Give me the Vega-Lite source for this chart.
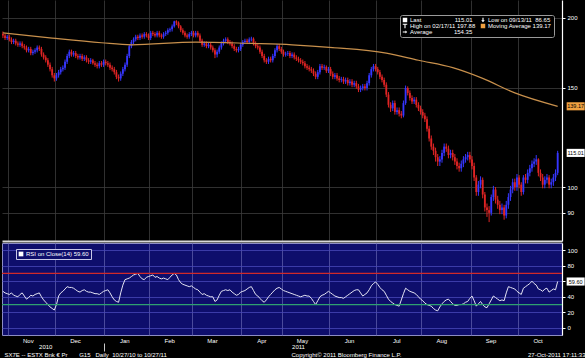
{
"$schema":"https://vega.github.io/schema/vega-lite/v6.json",
"background":"#000000",
"padding":0,
"spacing":1,
"config":{"font":"Liberation Sans","axis":{"labelFont":"Liberation Sans","titleFont":"Liberation Sans"},"legend":{"labelFont":"Liberation Sans"},"text":{"font":"Liberation Sans"}},
"resolve":{"scale":{"color":"independent","shape":"independent"},"legend":{"color":"independent","shape":"independent"}},
"datasets":{
"p":[
{"d":"2010-10-27","o":187,"h":189,"l":184,"c":186,"r":47},
{"d":"2010-10-28","o":186,"h":187.5,"l":182.5,"c":184,"r":45},
{"d":"2010-10-29","o":184,"h":186.5,"l":182.5,"c":185,"r":44},
{"d":"2010-11-01","o":185,"h":186.5,"l":181.5,"c":183,"r":43},
{"d":"2010-11-02","o":183,"h":184.5,"l":179.5,"c":181,"r":45},
{"d":"2010-11-03","o":181,"h":183.5,"l":179.5,"c":182,"r":42},
{"d":"2010-11-04","o":182,"h":183.5,"l":178.5,"c":180,"r":41},
{"d":"2010-11-05","o":180,"h":181.5,"l":177.5,"c":179,"r":40},
{"d":"2010-11-08","o":179,"h":181.5,"l":177.5,"c":180,"r":43},
{"d":"2010-11-09","o":180,"h":181.5,"l":176.5,"c":178,"r":45},
{"d":"2010-11-10","o":178,"h":179.5,"l":175.5,"c":177,"r":41},
{"d":"2010-11-11","o":177,"h":178.5,"l":173.5,"c":175,"r":37},
{"d":"2010-11-12","o":175,"h":177.5,"l":173.5,"c":176,"r":39},
{"d":"2010-11-15","o":176,"h":177.5,"l":171.5,"c":173,"r":42},
{"d":"2010-11-16","o":173,"h":175.5,"l":171.5,"c":174,"r":41},
{"d":"2010-11-17","o":174,"h":176.5,"l":172.5,"c":175,"r":43},
{"d":"2010-11-18","o":175,"h":178.5,"l":173.5,"c":177,"r":44},
{"d":"2010-11-19","o":177,"h":178.5,"l":174.5,"c":176,"r":45},
{"d":"2010-11-22","o":176,"h":177.5,"l":170.5,"c":172,"r":40},
{"d":"2010-11-23","o":172,"h":173.5,"l":168.5,"c":170,"r":36},
{"d":"2010-11-24","o":170,"h":171.5,"l":166.5,"c":168,"r":33},
{"d":"2010-11-25","o":168,"h":169.5,"l":163.5,"c":165,"r":30},
{"d":"2010-11-26","o":165,"h":166.5,"l":160.5,"c":162,"r":27},
{"d":"2010-11-29","o":162,"h":163.5,"l":156.5,"c":158,"r":25},
{"d":"2010-11-30","o":158,"h":159.5,"l":154,"c":156,"r":23},
{"d":"2010-12-01","o":156,"h":159.5,"l":154.5,"c":158,"r":30},
{"d":"2010-12-02","o":158,"h":161.5,"l":156.5,"c":160,"r":41},
{"d":"2010-12-03","o":160,"h":163.5,"l":158.5,"c":162,"r":45},
{"d":"2010-12-06","o":162,"h":164.5,"l":160.5,"c":163,"r":47},
{"d":"2010-12-07","o":163,"h":168.5,"l":161.5,"c":167,"r":50},
{"d":"2010-12-08","o":167,"h":172.5,"l":165.5,"c":171,"r":53},
{"d":"2010-12-09","o":171,"h":175.5,"l":169.5,"c":174,"r":52},
{"d":"2010-12-10","o":174,"h":175.5,"l":170.5,"c":172,"r":52},
{"d":"2010-12-13","o":172,"h":174.5,"l":170.5,"c":173,"r":51},
{"d":"2010-12-14","o":173,"h":174.5,"l":169.5,"c":171,"r":49},
{"d":"2010-12-15","o":171,"h":172.5,"l":168.5,"c":170,"r":47},
{"d":"2010-12-16","o":170,"h":172.5,"l":168.5,"c":171,"r":46},
{"d":"2010-12-17","o":171,"h":172.5,"l":167.5,"c":169,"r":48},
{"d":"2010-12-20","o":169,"h":171.5,"l":167.5,"c":170,"r":49},
{"d":"2010-12-21","o":170,"h":171.5,"l":166.5,"c":168,"r":47},
{"d":"2010-12-22","o":168,"h":169.5,"l":165.5,"c":167,"r":46},
{"d":"2010-12-23","o":167,"h":169.5,"l":165.5,"c":168,"r":46},
{"d":"2010-12-24","o":168,"h":169,"l":165,"c":166,"r":45},
{"d":"2010-12-27","o":166,"h":167.5,"l":163.5,"c":165,"r":44},
{"d":"2010-12-28","o":165,"h":166.5,"l":162.5,"c":164,"r":44},
{"d":"2010-12-29","o":164,"h":167.5,"l":162.5,"c":166,"r":43},
{"d":"2010-12-30","o":166,"h":167.5,"l":163.5,"c":165,"r":45},
{"d":"2010-12-31","o":165,"h":168.5,"l":163.5,"c":167,"r":47},
{"d":"2011-01-03","o":167,"h":168.5,"l":164.5,"c":166,"r":48},
{"d":"2011-01-04","o":166,"h":167.5,"l":163.5,"c":165,"r":49},
{"d":"2011-01-05","o":165,"h":166.5,"l":161.5,"c":163,"r":45},
{"d":"2011-01-06","o":163,"h":164.5,"l":160.5,"c":162,"r":40},
{"d":"2011-01-07","o":162,"h":163.5,"l":158.5,"c":160,"r":36},
{"d":"2011-01-10","o":160,"h":161.5,"l":155.5,"c":157,"r":34},
{"d":"2011-01-11","o":157,"h":158.5,"l":154,"c":156,"r":33},
{"d":"2011-01-12","o":156,"h":160.5,"l":154.5,"c":159,"r":45},
{"d":"2011-01-13","o":159,"h":163.5,"l":157.5,"c":162,"r":55},
{"d":"2011-01-14","o":162,"h":166.5,"l":160.5,"c":165,"r":62},
{"d":"2011-01-17","o":165,"h":172.5,"l":163.5,"c":171,"r":63},
{"d":"2011-01-18","o":171,"h":179.5,"l":169.5,"c":178,"r":64},
{"d":"2011-01-19","o":178,"h":182.5,"l":176.5,"c":181,"r":66},
{"d":"2011-01-20","o":181,"h":184.5,"l":179.5,"c":183,"r":68},
{"d":"2011-01-21","o":183,"h":186.5,"l":181.5,"c":185,"r":69},
{"d":"2011-01-24","o":185,"h":186.5,"l":182.5,"c":184,"r":70},
{"d":"2011-01-25","o":184,"h":187.5,"l":182.5,"c":186,"r":66},
{"d":"2011-01-26","o":186,"h":187.5,"l":183.5,"c":185,"r":63},
{"d":"2011-01-27","o":185,"h":188.5,"l":183.5,"c":187,"r":62},
{"d":"2011-01-28","o":187,"h":188.5,"l":184.5,"c":186,"r":65},
{"d":"2011-01-31","o":186,"h":187.5,"l":182.5,"c":184,"r":66},
{"d":"2011-02-01","o":184,"h":189.5,"l":182.5,"c":188,"r":67},
{"d":"2011-02-02","o":188,"h":189.5,"l":185.5,"c":187,"r":68},
{"d":"2011-02-03","o":187,"h":188.5,"l":184.5,"c":186,"r":65},
{"d":"2011-02-04","o":186,"h":189.5,"l":184.5,"c":188,"r":66},
{"d":"2011-02-07","o":188,"h":189.5,"l":184.5,"c":186,"r":64},
{"d":"2011-02-08","o":186,"h":187.5,"l":183.5,"c":185,"r":63},
{"d":"2011-02-09","o":185,"h":188.5,"l":183.5,"c":187,"r":64},
{"d":"2011-02-10","o":187,"h":189.5,"l":185.5,"c":188,"r":63},
{"d":"2011-02-11","o":188,"h":191.5,"l":186.5,"c":190,"r":62},
{"d":"2011-02-14","o":190,"h":192,"l":188.5,"c":190.8,"r":65},
{"d":"2011-02-15","o":190.8,"h":194.5,"l":189,"c":193,"r":68},
{"d":"2011-02-16","o":193,"h":197.5,"l":192,"c":197,"r":70},
{"d":"2011-02-17","o":197,"h":197.88,"l":194,"c":196,"r":68},
{"d":"2011-02-18","o":196,"h":197,"l":191.5,"c":193,"r":62},
{"d":"2011-02-21","o":193,"h":194,"l":188.5,"c":190,"r":58},
{"d":"2011-02-22","o":190,"h":191.5,"l":186.5,"c":188,"r":56},
{"d":"2011-02-23","o":188,"h":189.5,"l":184.5,"c":186,"r":55},
{"d":"2011-02-24","o":186,"h":187.5,"l":183.5,"c":185,"r":54},
{"d":"2011-02-25","o":185,"h":188.5,"l":183.5,"c":187,"r":53},
{"d":"2011-02-28","o":187,"h":189.5,"l":185.5,"c":188,"r":54},
{"d":"2011-03-01","o":188,"h":189.5,"l":184.5,"c":186,"r":52},
{"d":"2011-03-02","o":186,"h":189.5,"l":184.5,"c":188,"r":50},
{"d":"2011-03-03","o":188,"h":189.5,"l":184.5,"c":186,"r":49},
{"d":"2011-03-04","o":186,"h":187.5,"l":180.5,"c":182,"r":46},
{"d":"2011-03-07","o":182,"h":183.5,"l":177.5,"c":179,"r":43},
{"d":"2011-03-08","o":179,"h":181.5,"l":177.5,"c":180,"r":44},
{"d":"2011-03-09","o":180,"h":181.5,"l":176.5,"c":178,"r":42},
{"d":"2011-03-10","o":178,"h":180.5,"l":176.5,"c":179,"r":41},
{"d":"2011-03-11","o":179,"h":180.5,"l":175.5,"c":177,"r":40},
{"d":"2011-03-14","o":177,"h":178.5,"l":173.5,"c":175,"r":40},
{"d":"2011-03-15","o":175,"h":176.5,"l":169.5,"c":172,"r":34},
{"d":"2011-03-16","o":172,"h":175.5,"l":170,"c":174,"r":36},
{"d":"2011-03-17","o":174,"h":178.5,"l":172.5,"c":177,"r":42},
{"d":"2011-03-18","o":177,"h":181.5,"l":175.5,"c":180,"r":47},
{"d":"2011-03-21","o":180,"h":183.5,"l":178.5,"c":182,"r":48},
{"d":"2011-03-22","o":182,"h":184.5,"l":180.5,"c":183,"r":49},
{"d":"2011-03-23","o":183,"h":184.5,"l":179.5,"c":181,"r":48},
{"d":"2011-03-24","o":181,"h":182.5,"l":178.5,"c":180,"r":49},
{"d":"2011-03-25","o":180,"h":181.5,"l":176.5,"c":178,"r":46},
{"d":"2011-03-28","o":178,"h":179.5,"l":174.5,"c":176,"r":44},
{"d":"2011-03-29","o":176,"h":177.5,"l":173.5,"c":175,"r":42},
{"d":"2011-03-30","o":175,"h":177.5,"l":173.5,"c":176,"r":43},
{"d":"2011-03-31","o":176,"h":180.5,"l":174.5,"c":179,"r":46},
{"d":"2011-04-01","o":179,"h":182.5,"l":177.5,"c":181,"r":47},
{"d":"2011-04-04","o":181,"h":183.5,"l":179.5,"c":182,"r":48},
{"d":"2011-04-05","o":182,"h":183.5,"l":179.5,"c":181,"r":50},
{"d":"2011-04-06","o":181,"h":184.5,"l":179.5,"c":183,"r":52},
{"d":"2011-04-07","o":183,"h":185,"l":181.5,"c":183.5,"r":53},
{"d":"2011-04-08","o":183.5,"h":184.5,"l":178.5,"c":180,"r":48},
{"d":"2011-04-11","o":180,"h":181.5,"l":176.5,"c":178,"r":43},
{"d":"2011-04-12","o":178,"h":179.5,"l":175.5,"c":177,"r":41},
{"d":"2011-04-13","o":177,"h":178.5,"l":172.5,"c":174,"r":38},
{"d":"2011-04-14","o":174,"h":175.5,"l":169.5,"c":171,"r":35},
{"d":"2011-04-15","o":171,"h":172.5,"l":166.5,"c":168,"r":33},
{"d":"2011-04-18","o":168,"h":169.5,"l":165.5,"c":167,"r":36},
{"d":"2011-04-19","o":167,"h":170.5,"l":165.5,"c":169,"r":40},
{"d":"2011-04-20","o":169,"h":170.5,"l":166.5,"c":168,"r":43},
{"d":"2011-04-21","o":168,"h":172.5,"l":166.5,"c":171,"r":46},
{"d":"2011-04-26","o":171,"h":176.5,"l":169.5,"c":175,"r":49},
{"d":"2011-04-27","o":175,"h":179.5,"l":173.5,"c":178,"r":51},
{"d":"2011-04-28","o":178,"h":179.5,"l":174.5,"c":176,"r":52},
{"d":"2011-04-29","o":176,"h":177.5,"l":172.5,"c":174,"r":50},
{"d":"2011-05-02","o":174,"h":175.5,"l":170.5,"c":172,"r":48},
{"d":"2011-05-03","o":172,"h":174,"l":170.5,"c":172.5,"r":47},
{"d":"2011-05-04","o":172.5,"h":174.5,"l":171,"c":173,"r":46},
{"d":"2011-05-05","o":173,"h":174.5,"l":169.5,"c":171,"r":45},
{"d":"2011-05-06","o":171,"h":173.5,"l":169.5,"c":172,"r":44},
{"d":"2011-05-09","o":172,"h":173.5,"l":168.5,"c":170,"r":43},
{"d":"2011-05-10","o":170,"h":171.5,"l":167.5,"c":169,"r":42},
{"d":"2011-05-11","o":169,"h":170.5,"l":166.5,"c":168,"r":41},
{"d":"2011-05-12","o":168,"h":169.5,"l":165.5,"c":167,"r":40},
{"d":"2011-05-13","o":167,"h":168.5,"l":164.5,"c":166,"r":41},
{"d":"2011-05-16","o":166,"h":167.5,"l":162.5,"c":164,"r":42},
{"d":"2011-05-17","o":164,"h":165.5,"l":161.5,"c":163,"r":41},
{"d":"2011-05-18","o":163,"h":164.5,"l":160.5,"c":162,"r":41},
{"d":"2011-05-19","o":162,"h":163.5,"l":159.5,"c":161,"r":38},
{"d":"2011-05-20","o":161,"h":162.5,"l":157.5,"c":159,"r":34},
{"d":"2011-05-23","o":159,"h":160.5,"l":155.5,"c":157,"r":30},
{"d":"2011-05-24","o":157,"h":161.5,"l":155.5,"c":160,"r":35},
{"d":"2011-05-25","o":160,"h":165.5,"l":158.5,"c":164,"r":40},
{"d":"2011-05-26","o":164,"h":165.5,"l":161.5,"c":163,"r":42},
{"d":"2011-05-27","o":163,"h":165,"l":161.5,"c":163.5,"r":43},
{"d":"2011-05-30","o":163.5,"h":164.5,"l":159.5,"c":161,"r":45},
{"d":"2011-05-31","o":161,"h":163.5,"l":159.5,"c":162,"r":47},
{"d":"2011-06-01","o":162,"h":163.5,"l":157.5,"c":159,"r":45},
{"d":"2011-06-02","o":159,"h":160.5,"l":155.5,"c":157,"r":43},
{"d":"2011-06-03","o":157,"h":159.5,"l":155.5,"c":158,"r":41},
{"d":"2011-06-06","o":158,"h":159.5,"l":154.5,"c":156,"r":40},
{"d":"2011-06-07","o":156,"h":157.5,"l":153.5,"c":155,"r":39},
{"d":"2011-06-08","o":155,"h":157,"l":153.5,"c":155.5,"r":39},
{"d":"2011-06-09","o":155.5,"h":157,"l":152.5,"c":154,"r":38},
{"d":"2011-06-10","o":154,"h":156.5,"l":152.5,"c":155,"r":40},
{"d":"2011-06-13","o":155,"h":156.5,"l":151.5,"c":153,"r":42},
{"d":"2011-06-14","o":153,"h":155.5,"l":151.5,"c":154,"r":44},
{"d":"2011-06-15","o":154,"h":155.5,"l":150.5,"c":152,"r":46},
{"d":"2011-06-16","o":152,"h":154.5,"l":150.5,"c":153,"r":48},
{"d":"2011-06-17","o":153,"h":154.5,"l":149.5,"c":151,"r":49},
{"d":"2011-06-20","o":151,"h":152.5,"l":147.5,"c":149,"r":49},
{"d":"2011-06-21","o":149,"h":151.5,"l":147.5,"c":150,"r":45},
{"d":"2011-06-22","o":150,"h":152.5,"l":148.5,"c":151,"r":41},
{"d":"2011-06-23","o":151,"h":152.5,"l":148.5,"c":150,"r":43},
{"d":"2011-06-24","o":150,"h":154.5,"l":148.5,"c":153,"r":45},
{"d":"2011-06-27","o":153,"h":159.5,"l":151.5,"c":158,"r":49},
{"d":"2011-06-28","o":158,"h":163.5,"l":156.5,"c":162,"r":54},
{"d":"2011-06-29","o":162,"h":165.5,"l":160.5,"c":164,"r":57},
{"d":"2011-06-30","o":164,"h":165.5,"l":160.5,"c":162,"r":59},
{"d":"2011-07-01","o":162,"h":163.5,"l":158.5,"c":160,"r":56},
{"d":"2011-07-04","o":160,"h":161.5,"l":155.5,"c":157,"r":52},
{"d":"2011-07-05","o":157,"h":158.5,"l":153.5,"c":155,"r":49},
{"d":"2011-07-06","o":155,"h":156.5,"l":150.5,"c":152,"r":47},
{"d":"2011-07-07","o":152,"h":153.5,"l":144.5,"c":146,"r":42},
{"d":"2011-07-08","o":146,"h":147.5,"l":138.5,"c":140,"r":37},
{"d":"2011-07-11","o":140,"h":141.5,"l":136,"c":138,"r":34},
{"d":"2011-07-12","o":138,"h":142.5,"l":136.5,"c":141,"r":32},
{"d":"2011-07-13","o":141,"h":142.5,"l":134.5,"c":136,"r":30},
{"d":"2011-07-14","o":136,"h":138.5,"l":134.5,"c":137,"r":29},
{"d":"2011-07-15","o":137,"h":138.5,"l":133.5,"c":135,"r":28},
{"d":"2011-07-18","o":135,"h":136.5,"l":132.5,"c":134,"r":36},
{"d":"2011-07-19","o":134,"h":142.5,"l":133,"c":141,"r":44},
{"d":"2011-07-20","o":141,"h":151.5,"l":140,"c":150,"r":51},
{"d":"2011-07-21","o":150,"h":151,"l":145.5,"c":147,"r":49},
{"d":"2011-07-22","o":147,"h":148.5,"l":142.5,"c":144,"r":47},
{"d":"2011-07-25","o":144,"h":145.5,"l":140.5,"c":142,"r":46},
{"d":"2011-07-26","o":142,"h":144.5,"l":140.5,"c":143,"r":45},
{"d":"2011-07-27","o":143,"h":144.5,"l":138.5,"c":140,"r":43},
{"d":"2011-07-28","o":140,"h":141.5,"l":136.5,"c":138,"r":40},
{"d":"2011-07-29","o":138,"h":139.5,"l":134.5,"c":136,"r":37},
{"d":"2011-08-01","o":136,"h":137.5,"l":132.5,"c":134,"r":35},
{"d":"2011-08-02","o":134,"h":135.5,"l":130.5,"c":132,"r":32},
{"d":"2011-08-03","o":132,"h":133.5,"l":125.5,"c":127,"r":30},
{"d":"2011-08-04","o":127,"h":128.5,"l":120.5,"c":122,"r":29},
{"d":"2011-08-05","o":122,"h":123.5,"l":116.5,"c":118,"r":28},
{"d":"2011-08-08","o":118,"h":119.5,"l":114,"c":116,"r":25},
{"d":"2011-08-09","o":116,"h":117.5,"l":111,"c":113,"r":23},
{"d":"2011-08-10","o":113,"h":114.5,"l":109,"c":111,"r":22},
{"d":"2011-08-11","o":111,"h":113.5,"l":109,"c":112,"r":27},
{"d":"2011-08-12","o":112,"h":116.5,"l":110.5,"c":115,"r":31},
{"d":"2011-08-15","o":115,"h":119.5,"l":113.5,"c":118,"r":34},
{"d":"2011-08-16","o":118,"h":119.5,"l":115.5,"c":117,"r":36},
{"d":"2011-08-17","o":117,"h":118.5,"l":112.5,"c":114,"r":37},
{"d":"2011-08-18","o":114,"h":116.5,"l":112.5,"c":115,"r":34},
{"d":"2011-08-19","o":115,"h":116.5,"l":111.5,"c":113,"r":31},
{"d":"2011-08-22","o":113,"h":114.5,"l":109.5,"c":111,"r":29},
{"d":"2011-08-23","o":111,"h":112.5,"l":107.5,"c":109,"r":29},
{"d":"2011-08-24","o":109,"h":110.5,"l":106.5,"c":108,"r":30},
{"d":"2011-08-25","o":108,"h":111.5,"l":106.5,"c":110,"r":30},
{"d":"2011-08-26","o":110,"h":113.5,"l":108.5,"c":112,"r":31},
{"d":"2011-08-29","o":112,"h":114.5,"l":110.5,"c":113,"r":33},
{"d":"2011-08-30","o":113,"h":115.5,"l":111.5,"c":114,"r":34},
{"d":"2011-08-31","o":114,"h":115.5,"l":110.5,"c":112,"r":38},
{"d":"2011-09-01","o":112,"h":113.5,"l":107.5,"c":109,"r":41},
{"d":"2011-09-02","o":109,"h":110.5,"l":102.5,"c":104,"r":35},
{"d":"2011-09-05","o":104,"h":105,"l":96.5,"c":98,"r":28},
{"d":"2011-09-06","o":98,"h":102.5,"l":96.5,"c":101,"r":31},
{"d":"2011-09-07","o":101,"h":104.5,"l":99.5,"c":103,"r":34},
{"d":"2011-09-08","o":103,"h":104,"l":95.5,"c":97,"r":30},
{"d":"2011-09-09","o":97,"h":98,"l":90.5,"c":92,"r":27},
{"d":"2011-09-12","o":92,"h":93.5,"l":88.5,"c":91,"r":26},
{"d":"2011-09-13","o":91,"h":92.5,"l":86.65,"c":90,"r":31},
{"d":"2011-09-14","o":90,"h":97,"l":89,"c":96,"r":36},
{"d":"2011-09-15","o":96,"h":100.5,"l":94.5,"c":99,"r":41},
{"d":"2011-09-16","o":99,"h":100,"l":93.5,"c":95,"r":39},
{"d":"2011-09-19","o":95,"h":96.5,"l":91.5,"c":93,"r":37},
{"d":"2011-09-20","o":93,"h":94.5,"l":89.5,"c":91,"r":35},
{"d":"2011-09-21","o":91,"h":93.5,"l":89.5,"c":92,"r":36},
{"d":"2011-09-22","o":92,"h":93,"l":87.5,"c":89,"r":35},
{"d":"2011-09-23","o":89,"h":94.5,"l":88,"c":93,"r":45},
{"d":"2011-09-26","o":93,"h":97.5,"l":91.5,"c":96,"r":53},
{"d":"2011-09-27","o":96,"h":100.5,"l":94.5,"c":99,"r":52},
{"d":"2011-09-28","o":99,"h":103.5,"l":97.5,"c":102,"r":51},
{"d":"2011-09-29","o":102,"h":103.5,"l":98.5,"c":100,"r":50},
{"d":"2011-09-30","o":100,"h":105.5,"l":98.5,"c":104,"r":47},
{"d":"2011-10-03","o":104,"h":105,"l":99.5,"c":101,"r":45},
{"d":"2011-10-04","o":101,"h":102,"l":96.5,"c":98,"r":43},
{"d":"2011-10-05","o":98,"h":105,"l":97,"c":104,"r":51},
{"d":"2011-10-06","o":104,"h":105.5,"l":101.5,"c":103,"r":53},
{"d":"2011-10-07","o":103,"h":107.5,"l":101.5,"c":106,"r":55},
{"d":"2011-10-10","o":106,"h":109.5,"l":104.5,"c":108,"r":57},
{"d":"2011-10-11","o":108,"h":111.5,"l":106.5,"c":110,"r":60},
{"d":"2011-10-12","o":110,"h":112.5,"l":108.5,"c":111,"r":57},
{"d":"2011-10-13","o":111,"h":114,"l":109.5,"c":112,"r":55},
{"d":"2011-10-14","o":112,"h":112.5,"l":104.5,"c":106,"r":50},
{"d":"2011-10-17","o":106,"h":107.5,"l":102.5,"c":104,"r":49},
{"d":"2011-10-18","o":104,"h":105.5,"l":99.5,"c":101,"r":47},
{"d":"2011-10-19","o":101,"h":104.5,"l":99.5,"c":103,"r":50},
{"d":"2011-10-20","o":103,"h":105.5,"l":101.5,"c":104,"r":51},
{"d":"2011-10-21","o":104,"h":105,"l":99.5,"c":101,"r":46},
{"d":"2011-10-24","o":101,"h":103.5,"l":99.5,"c":102,"r":48},
{"d":"2011-10-25","o":102,"h":105.5,"l":100.5,"c":104,"r":50},
{"d":"2011-10-26","o":104,"h":107.5,"l":102.5,"c":106,"r":49},
{"d":"2011-10-27","o":106,"h":116,"l":105,"c":115.01,"r":59.6}
],
"ma":[
{"d":"2010-10-27","m":188},{"d":"2010-11-29","m":184},{"d":"2010-12-30","m":180.5},{"d":"2011-01-19","m":179},
{"d":"2011-03-02","m":181},{"d":"2011-04-07","m":180},{"d":"2011-05-06","m":179},{"d":"2011-06-02","m":177},
{"d":"2011-07-07","m":173},{"d":"2011-07-28","m":168},{"d":"2011-08-19","m":163},{"d":"2011-09-08","m":156},
{"d":"2011-09-29","m":147},{"d":"2011-10-27","m":139.17}
],
"lab":[{"d":"2011-10-27","v":139.17,"t":"139.17","k":"ma"},{"d":"2011-10-27","v":115.01,"t":"115.01","k":"last"}],
"lab2":[{"d":"2011-10-27","v":59.6,"t":"59.60"}],
"rl":[{"v":70,"k":"hi"},{"v":30,"k":"lo"}],
"leg":[
{"k":"Last\u00a0\u00a0\u00a0\u00a0\u00a0\u00a0\u00a0\u00a0\u00a0\u00a0\u00a0\u00a0\u00a0\u00a0\u00a0\u00a0\u00a0\u00a0\u00a0\u00a0115.01"},
{"k":"Low on 09/13/11\u00a0\u00a086.65"},
{"k":"High on 02/17/11\u00a0197.88"},
{"k":"Moving Average\u00a0139.17"},
{"k":"Average\u00a0\u00a0\u00a0\u00a0\u00a0\u00a0\u00a0\u00a0\u00a0\u00a0\u00a0\u00a0\u00a0154.35"}
]
},
"vconcat":[
{
"width":560,"height":241,
"view":{"fill":"#000000","stroke":null},
"layer":[
{"data":{"name":"p"},"mark":{"type":"rule","strokeWidth":1},
 "encoding":{
  "x":{"field":"d","type":"ordinal","scale":{"type":"band","paddingInner":0.15,"paddingOuter":0.8,"align":0},
   "axis":{"orient":"bottom","values":["2010-11-01","2010-12-01","2011-01-03","2011-02-01","2011-03-01","2011-04-01","2011-05-02","2011-06-01","2011-07-01","2011-08-01","2011-09-01","2011-10-03"],"bandPosition":0,"labels":false,"ticks":false,"domain":true,"domainColor":"#d8d8d8","domainWidth":2,"grid":true,"gridColor":"#3c3c3c","gridWidth":0.8,"title":null}},
  "y":{"field":"l","type":"quantitative","scale":{"type":"log","domain":[80.2,215],"nice":false,"zero":false},
   "axis":{"orient":"right","values":[90,100,150,200],"format":".0f","grid":true,"gridColor":"#3c3c3c","gridWidth":0.8,"domainColor":"#ffffff","domainWidth":1.2,"tickColor":"#ffffff","tickSize":3,"labelColor":"#ffffff","labelFontSize":6,"labelPadding":2,"labelOverlap":false,"labelBound":false,"title":null}},
  "y2":{"field":"h"},
  "color":{"condition":{"test":"datum.c >= datum.o","value":"#3636ff"},"value":"#e02424"}
 }},
{"data":{"name":"p"},"mark":{"type":"bar"},
 "encoding":{
  "x":{"field":"d","type":"ordinal"},
  "y":{"field":"o","type":"quantitative"},
  "y2":{"field":"c"},
  "color":{"condition":{"test":"datum.c >= datum.o","value":"#3636ff"},"value":"#e02424"}
 }},
{"data":{"name":"ma"},"mark":{"type":"line","color":"#c8904c","strokeWidth":1.2,"interpolate":"monotone"},
 "encoding":{"x":{"field":"d","type":"ordinal"},"y":{"field":"m","type":"quantitative"}}},
{"data":{"name":"lab"},"mark":{"type":"point","shape":"M-1,-0.45H1V0.45H-1Z","size":324,"filled":true,"opacity":1,"strokeWidth":0,"xOffset":18},
 "encoding":{"x":{"field":"d","type":"ordinal"},"y":{"field":"v","type":"quantitative"},
  "color":{"condition":{"test":"datum.k == 'ma'","value":"#f0a040"},"value":"#ffffff"}}},
{"data":{"name":"lab"},"mark":{"type":"text","fontSize":5.5,"color":"#000000","xOffset":18,"align":"center","baseline":"middle"},
 "encoding":{"x":{"field":"d","type":"ordinal"},"y":{"field":"v","type":"quantitative"},"text":{"field":"t"}}},
{"data":{"name":"leg"},"mark":{"type":"point","filled":true,"opacity":0},
 "encoding":{
  "color":{"field":"k","type":"nominal",
   "scale":{"domain":["Last\u00a0\u00a0\u00a0\u00a0\u00a0\u00a0\u00a0\u00a0\u00a0\u00a0\u00a0\u00a0\u00a0\u00a0\u00a0\u00a0\u00a0\u00a0\u00a0\u00a0115.01","High on 02/17/11\u00a0197.88","Average\u00a0\u00a0\u00a0\u00a0\u00a0\u00a0\u00a0\u00a0\u00a0\u00a0\u00a0\u00a0\u00a0154.35","Low on 09/13/11\u00a0\u00a086.65","Moving Average\u00a0139.17"],
    "range":["#ffffff","#ffffff","#ffffff","#ffffff","#f0a040"]},
   "legend":{"title":null,"orient":"none","legendX":398,"legendY":15,"columns":2,"columnPadding":4,"rowPadding":0,"fillColor":"#000000","strokeColor":"#9a9a9a","cornerRadius":2,"padding":2,"labelColor":"#ffffff","labelFontSize":6,"symbolSize":20,"symbolStrokeWidth":0,"symbolOpacity":1,"labelOffset":2,"labelLimit":200}},
  "shape":{"field":"k","type":"nominal",
   "scale":{"domain":["Last\u00a0\u00a0\u00a0\u00a0\u00a0\u00a0\u00a0\u00a0\u00a0\u00a0\u00a0\u00a0\u00a0\u00a0\u00a0\u00a0\u00a0\u00a0\u00a0\u00a0115.01","High on 02/17/11\u00a0197.88","Average\u00a0\u00a0\u00a0\u00a0\u00a0\u00a0\u00a0\u00a0\u00a0\u00a0\u00a0\u00a0\u00a0154.35","Low on 09/13/11\u00a0\u00a086.65","Moving Average\u00a0139.17"],
    "range":["square","M-1,-1H1V-0.55H0.25V1H-0.25V-0.55H-1Z","M-1,-0.2H0.2V-0.7L1,0L0.2,0.7V0.2H-1Z","M-0.25,-1H0.25V0.1H0.8L0,1L-0.8,0.1H-0.25Z","square"]},
   "legend":{"title":null,"orient":"none","legendX":398,"legendY":15,"columns":2,"columnPadding":4,"rowPadding":0,"fillColor":"#000000","strokeColor":"#9a9a9a","cornerRadius":2,"padding":2,"labelColor":"#ffffff","labelFontSize":6,"symbolSize":20,"symbolStrokeWidth":0,"symbolOpacity":1,"labelOffset":2,"labelLimit":200}}
 }}
]
},
{
"width":560,"height":92,
"view":{"fill":"#0e0e6c","stroke":"#8c8cc4","strokeWidth":1},
"resolve":{"axis":{"x":"independent","y":"independent"}},
"layer":[
{"data":{"name":"p"},"mark":{"type":"line","color":"#e4e4f4","strokeWidth":1},
 "encoding":{
  "x":{"field":"d","type":"ordinal","scale":{"type":"band","paddingInner":0.15,"paddingOuter":0.8,"align":0},
   "axis":{"orient":"bottom","values":["2010-11-01","2010-12-01","2011-01-03","2011-02-01","2011-03-01","2011-04-01","2011-05-02","2011-06-01","2011-07-01","2011-08-01","2011-09-01","2011-10-03"],"bandPosition":0,
    "labelExpr":"['Jan','Feb','Mar','Apr','May','Jun','Jul','Aug','Sep','Oct','Nov','Dec'][toNumber(substring(datum.value,5,7))-1]",
    "labelOffset":19,"labelPadding":2,"labelAlign":"center","labelBaseline":"top","labelAngle":0,"labelOverlap":false,"labelColor":"#ffffff","labelFontSize":6,
    "ticks":false,"domain":false,"grid":true,"gridColor":"#5a5aa8","gridWidth":0.8,
    "title":"SX7E -- ESTX Bnk € Pr\u00a0\u00a0\u00a0\u00a0\u00a0\u00a0\u00a0G15\u00a0\u00a0\u00a0Daily\u00a0\u00a010/27/10 to 10/27/11","titleX":2,"titleY":19,"titleAlign":"left","titleAnchor":"start","titleBaseline":"middle","titleFontSize":6,"titleFontWeight":"normal","titleColor":"#ffffff"}},
  "y":{"field":"r","type":"quantitative","scale":{"domain":[-9,109],"nice":false,"zero":false},
   "axis":{"orient":"right","values":[0,20,40,60,80,100],"labelExpr":"datum.value == 60 ? '' : datum.label","grid":true,"gridColor":"#4848b8","gridWidth":0.8,"domainColor":"#ffffff","domainWidth":1.2,"tickColor":"#ffffff","tickSize":3,"labelColor":"#ffffff","labelFontSize":6,"labelPadding":2,"labelOverlap":false,"labelBound":false,"title":null}}
 }},
{"data":{"name":"rl"},"mark":{"type":"rule","strokeWidth":1.2},
 "encoding":{"y":{"field":"v","type":"quantitative","axis":null},
  "color":{"condition":{"test":"datum.k == 'hi'","value":"#d02a2a"},"value":"#2fa070"}}},
{"data":{"name":"lab2"},"mark":{"type":"point","shape":"M-1,-0.45H1V0.45H-1Z","size":324,"filled":true,"opacity":1,"strokeWidth":0,"xOffset":18},
 "encoding":{
  "x":{"field":"d","type":"ordinal",
   "axis":{"orient":"bottom","values":["2010-11-24","2011-05-11"],"bandPosition":0,"labelExpr":"substring(datum.value,0,4)","offset":8,"ticks":false,"domain":false,"grid":false,"labelPadding":0,"labelAlign":"center","labelBaseline":"top","labelAngle":0,"labelOverlap":false,"labelColor":"#ffffff","labelFontSize":6,
    "title":"Copyright© 2011 Bloomberg Finance L.P.","titleX":344,"titleY":11,"titleAlign":"center","titleBaseline":"middle","titleFontSize":6,"titleFontWeight":"normal","titleColor":"#ffffff"}},
  "y":{"field":"v","type":"quantitative","axis":null},
  "color":{"datum":"RSI on Close(14) 59.60","type":"nominal","scale":{"range":["#ffffff"]},
   "legend":{"title":null,"orient":"none","legendX":14,"legendY":6,"fillColor":"#0e0e6c","strokeColor":"#c8c8e8","padding":2,"labelColor":"#ffffff","labelFontSize":6,"symbolType":"square","symbolSize":22,"symbolStrokeWidth":0,"labelOffset":2,"labelLimit":200}}
 }},
{"data":{"name":"lab2"},"mark":{"type":"text","fontSize":5.5,"color":"#000000","xOffset":18,"align":"center","baseline":"middle"},
 "encoding":{
  "x":{"field":"d","type":"ordinal",
   "axis":{"orient":"bottom","values":["2011-01-03"],"bandPosition":0,"offset":8,"labels":false,"ticks":true,"tickSize":8,"tickWidth":1,"tickColor":"#c8c8c8","domain":false,"grid":false,
    "title":"27-Oct-2011 17:11:33","titleX":583,"titleY":11,"titleAlign":"right","titleBaseline":"middle","titleFontSize":6,"titleFontWeight":"normal","titleColor":"#ffffff"}},
  "y":{"field":"v","type":"quantitative","axis":null},
  "text":{"field":"t"}
 }}
]
}
]
}
